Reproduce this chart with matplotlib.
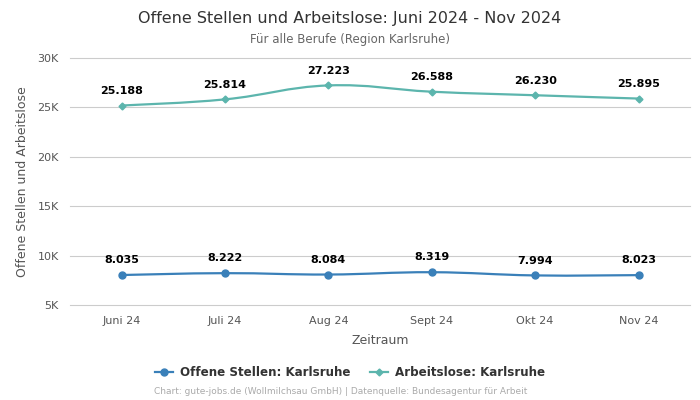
import matplotlib.pyplot as plt
from matplotlib.path import Path
from matplotlib.patches import PathPatch
from matplotlib.lines import Line2D

months = ['Juni 24', 'Juli 24', 'Aug 24', 'Sept 24', 'Okt 24', 'Nov 24']
offene = [8035, 8222, 8084, 8319, 7994, 8023]
arbeitslose = [25188, 25814, 27223, 26588, 26230, 25895]
yticks = [5000, 10000, 15000, 20000, 25000, 30000]
ytick_labels = ['5K', '10K', '15K', '20K', '25K', '30K']

blue = '#3a80b9'
teal = '#5cb5ad'


def fmt(v):
    return f'{v:,}'.replace(',', '.')


def smooth_path(xs, ys, t=0.2):
    # catmull-rom style bezier through the points
    verts = [(xs[0], ys[0])]
    codes = [Path.MOVETO]
    n = len(xs)
    for i in range(n - 1):
        x0, y0 = (xs[i - 1], ys[i - 1]) if i > 0 else (xs[i], ys[i])
        x1, y1 = xs[i], ys[i]
        x2, y2 = xs[i + 1], ys[i + 1]
        x3, y3 = (xs[i + 2], ys[i + 2]) if i + 2 < n else (x2, y2)
        c1 = (x1 + (x2 - x0) * t, y1 + (y2 - y0) * t)
        c2 = (x2 - (x3 - x1) * t, y2 - (y3 - y1) * t)
        verts += [c1, c2, (x2, y2)]
        codes += [Path.CURVE4] * 3
    return Path(verts, codes)


fig = plt.figure(figsize=(7, 4), dpi=100)
ax = fig.add_axes([0.1, 0.2375, 0.886, 0.6175])

x = list(range(len(months)))
for vals, col, mk, ms in [(offene, blue, 'o', 5), (arbeitslose, teal, 'D', 3.5)]:
    ax.add_patch(PathPatch(smooth_path(x, vals), facecolor='none', edgecolor=col, lw=1.6, zorder=3))
    ax.plot(x, vals, linestyle='none', marker=mk, color=col, markersize=ms, zorder=4)
    for xi, v in zip(x, vals):
        ax.annotate(fmt(v), (xi, v), xytext=(0, 7), textcoords='offset points',
                    ha='center', va='bottom', fontsize=8, fontweight='bold', color='black')

ax.set_xlim(-0.5, 5.5)
ax.set_ylim(5000, 30000)
ax.set_xticks(x)
ax.set_xticklabels(months)
ax.set_yticks(yticks)
ax.set_yticklabels(ytick_labels)
ax.tick_params(axis='both', length=0, labelsize=8, colors='#555555', pad=8)
ax.grid(axis='y', color='#cccccc', lw=0.8)
for gl in ax.get_ygridlines():
    gl.set_clip_on(False)
ax.set_axisbelow(True)
for s in ax.spines.values():
    s.set_visible(False)
ax.set_xlabel('Zeitraum', fontsize=9, color='#555555', labelpad=6)
ax.set_ylabel('Offene Stellen und Arbeitslose', fontsize=9, color='#555555', labelpad=6)

fig.text(0.5, 0.955, 'Offene Stellen und Arbeitslose: Juni 2024 - Nov 2024', ha='center', va='center',
         fontsize=11.5, color='#333333')
fig.text(0.5, 0.902, 'Für alle Berufe (Region Karlsruhe)', ha='center', va='center',
         fontsize=8.5, color='#666666')

handles = [Line2D([], [], color=blue, marker='o', markersize=5, lw=1.6),
           Line2D([], [], color=teal, marker='D', markersize=3.5, lw=1.6)]
leg = fig.legend(handles, ['Offene Stellen: Karlsruhe', 'Arbeitslose: Karlsruhe'], loc='center',
                 bbox_to_anchor=(0.5, 0.068), ncol=2, frameon=False, handlelength=1.5,
                 handletextpad=0.6, columnspacing=1.6, prop={'size': 8.6, 'weight': 'bold'})
for t in leg.get_texts():
    t.set_color('#333333')

fig.text(0.486, 0.02, 'Chart: gute-jobs.de (Wollmilchsau GmbH) | Datenquelle: Bundesagentur für Arbeit',
         ha='center', va='center', fontsize=6.5, color='#aaaaaa')

fig.savefig('out.png', dpi=100)
